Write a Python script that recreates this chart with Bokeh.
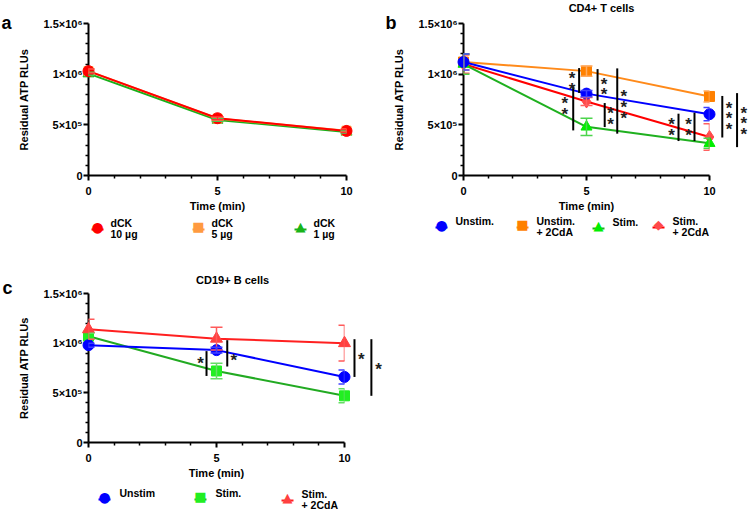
from bokeh.plotting import figure
from bokeh.models import Range1d, FixedTicker, Whisker, TeeHead, ColumnDataSource
from bokeh.layouts import column, row
from bokeh.core.properties import value
from bokeh.embed import file_html
from bokeh.resources import INLINE

FONT = "Liberation Sans"
SYMBOL_FONT = "DejaVu Sans"
Y_MAX = 1500000
X_MAX = 10

# ---------------- data ----------------
time_min = [0, 5, 10]
x_major = [0, 5, 10]
x_minor = [1, 2, 3, 4, 6, 7, 8, 9]
y_major = [0, 500000, 1000000, 1500000]
y_major_labels = ["0", "5×10⁵", "1×10⁶", "1.5×10⁶"]
y_minor = [k * 100000 for k in range(16) if k % 5 != 0]

# panel a
a_labels = ["dCK\n10 µg", "dCK\n5 µg", "dCK\n1 µg"]
a_dck10 = [1030000, 565000, 440000]
a_dck10_err = [20000, 15000, 15000]
a_dck5 = [1030000, 562000, 442000]
a_dck5_err = [20000, 15000, 15000]
a_dck1 = [1005000, 548000, 430000]
a_dck1_err = [15000, 12000, 12000]

# panel b  (CD4+ T cells)
b_title = "CD4+ T cells"
b_labels = ["Unstim.\n ", "Unstim.\n+ 2CdA", "Stim.\n ", "Stim.\n+ 2CdA"]
b_unstim = [1120000, 808000, 605000]
b_unstim_err = [80000, 30000, 65000]
b_unstim_2cda = [1120000, 1030000, 780000]
b_unstim_2cda_err = [80000, 50000, 55000]
b_stim = [1100000, 480000, 318000]
b_stim_err = [100000, 85000, 50000]
b_stim_2cda = [1100000, 730000, 380000]
b_stim_2cda_err = [90000, 40000, 130000]
b_sig_x = [4.70, 4.46, 5.45, 5.74, 6.25, 8.74, 9.39, 10.52, 11.12]
b_sig_top = [1060000, 880000, 1050000, 715000, 1057000, 610000, 620000, 785000, 813000]
b_sig_bottom = [815000, 445000, 740000, 478000, 413000, 340000, 340000, 375000, 280000]
b_star_x = [4.41, 4.12, 5.71, 5.98, 6.52, 8.46, 9.15, 10.79, 11.39]
b_star_y = [930000, 685000, 880000, 590000, 700000, 480000, 480000, 590000, 540000]
b_star_text = ["*\n*", "*\n*", "*\n*", "*\n*", "*\n*\n*", "*\n*", "*\n*", "*\n*\n*", "*\n*\n*"]

# panel c  (CD19+ B cells)
c_title = "CD19+ B cells"
c_labels = ["Unstim\n ", "Stim.\n ", "Stim.\n+ 2CdA"]
c_unstim = [980000, 930000, 660000]
c_unstim_err = [20000, 30000, 70000]
c_stim = [1070000, 720000, 470000]
c_stim_err = [30000, 78000, 70000]
c_stim_2cda = [1140000, 1045000, 1000000]
c_stim_2cda_err = [100000, 115000, 180000]
c_sig_x = [4.61, 5.42, 10.39, 11.05]
c_sig_top = [920000, 1030000, 1040000, 1040000]
c_sig_bottom = [670000, 765000, 660000, 470000]
c_star_x = [4.38, 5.68, 10.66, 11.33]
c_star_y = [830000, 860000, 870000, 765000]
c_star_text = ["*", "*", "*", "*"]

KEY_SYMBOLS = {"circle": ("●", "14px"), "square": ("■", "13px"),
               "triangle": ("▲", "13px"), "diamond": ("◆", "13px")}


def make_fig(width, height, left, top, right, bottom):
    p = figure(width=width, height=height, x_range=Range1d(0, X_MAX), y_range=Range1d(0, Y_MAX),
               output_backend="svg", toolbar_location=None,
               min_border_left=left, min_border_top=top,
               min_border_right=right, min_border_bottom=bottom)
    p.outline_line_color = None
    p.grid.visible = False
    p.xaxis.ticker = FixedTicker(ticks=x_major, minor_ticks=x_minor)
    p.yaxis.ticker = FixedTicker(ticks=y_major, minor_ticks=y_minor)
    p.yaxis.major_label_overrides = dict(zip(y_major, y_major_labels))
    p.xaxis.axis_label = "Time (min)"
    p.yaxis.axis_label = "Residual ATP RLUs"
    for ax in (p.xaxis[0], p.yaxis[0]):
        ax.axis_line_width = 2
        ax.axis_line_color = "black"
        ax.major_tick_line_width = 2
        ax.minor_tick_line_width = 1.5
        ax.major_tick_out = 5
        ax.major_tick_in = 0
        ax.minor_tick_out = 3
        ax.minor_tick_in = 0
        ax.major_label_text_font = FONT
        ax.major_label_text_font_style = "bold"
        ax.major_label_text_font_size = "11px"
        ax.major_label_text_color = "black"
        ax.axis_label_text_font = FONT
        ax.axis_label_text_font_style = "bold"
        ax.axis_label_text_font_size = "11px"
        ax.axis_label_text_color = "black"
    p.xaxis.major_label_standoff = 6
    p.xaxis.axis_label_standoff = 2
    p.yaxis.major_label_standoff = 1
    p.yaxis.axis_label_standoff = 10
    # frame geometry in canvas pixels: left, bottom, width, height
    p.tags = [left, height - bottom, width - left - right, height - top - bottom]
    return p


def add_series(p, ys, errs, marker, size, line_color, marker_color, err_color):
    src = ColumnDataSource(dict(x=time_min, y=ys,
                                upper=[v + e for v, e in zip(ys, errs)],
                                lower=[v - e for v, e in zip(ys, errs)]))
    w = Whisker(source=src, base="x", upper="upper", lower="lower", dimension="height",
                line_color=err_color, line_width=1.5, level="overlay",
                upper_head=TeeHead(size=12, line_color=err_color, line_width=1.5),
                lower_head=TeeHead(size=12, line_color=err_color, line_width=1.5))
    p.add_layout(w)
    p.line("x", "y", source=src, line_color=line_color, line_width=2, level="overlay")
    p.scatter("x", "y", source=src, marker=marker, size=size, fill_color=marker_color,
              line_color=marker_color, level="overlay")
    return (marker, line_color, marker_color)


def add_sig(p, xs, tops, bottoms, sx, sy, stext):
    src = ColumnDataSource(dict(x=xs, top=tops, bottom=bottoms))
    p.segment(x0="x", y0="top", x1="x", y1="bottom", source=src, line_color="black",
              line_width=2, level="overlay")
    ssrc = ColumnDataSource(dict(x=sx, y=sy, t=stext))
    p.text(x="x", y="y", text="t", source=ssrc, text_font=value(FONT), text_font_size="17px",
           text_font_style="bold", text_align="center", text_baseline="middle",
           text_line_height=0.56, text_color="#222222", level="overlay", y_offset=3)


def add_text(p, x, y, txt, size, xoff, yoff, align, baseline):
    p.text(x=[x], y=[y], text=[txt], x_offset=xoff, y_offset=yoff, text_font=value(FONT),
           text_font_style="bold", text_font_size=size, text_align=align,
           text_baseline=baseline, text_color="black", level="overlay")


def add_key(p, specs, labels, key_px, key_py, text_dx):
    """Legend drawn below the axis: positions given in canvas pixels (layout only)."""
    fl, fb, fw, fh = p.tags
    half = 6 / fw * X_MAX
    kx = [(px - fl) / fw * X_MAX for px in key_px]
    ky = [(fb - py) / fh * Y_MAX for py in key_py]
    for (marker, lc, mc), x, y, lab, d in zip(specs, kx, ky, labels, text_dx):
        sym, fs = KEY_SYMBOLS[marker]
        p.segment(x0=[x - half], y0=[y], x1=[x + half], y1=[y], line_color=lc, line_width=2,
                  level="overlay")
        p.text([x], [y], text=[sym], y_offset=-3, text_font=value(SYMBOL_FONT),
               text_font_size=fs, text_align="center", text_baseline="middle",
               text_color=mc, level="overlay")
        p.text([x], [y], text=[lab], x_offset=d, y_offset=-1, text_font=value(FONT),
               text_font_style="bold", text_font_size="10.5px", text_align="left",
               text_baseline="middle", text_line_height=0.9, text_color="black",
               level="overlay")


# ---------------- panel a ----------------
pa = make_fig(375, 262, 88, 23, 29, 87)
sa1 = add_series(pa, a_dck1, a_dck1_err, "triangle", 11, "#1aaf1a", "#18b418", "#4cc44c")
sa5 = add_series(pa, a_dck5, a_dck5_err, "square", 9, "#ff9a40", "#ff9a40", "#ffb070")
sa10 = add_series(pa, a_dck10, a_dck10_err, "circle", 11, "#ff0000", "#ff0000", "#ff3030")
add_text(pa, 0, Y_MAX, "a", "18px", -87, -1, "left", "alphabetic")
add_key(pa, [sa10, sa5, sa1], a_labels, [97, 198, 300], [229, 229, 229], [13, 13, 13])

# ---------------- panel b ----------------
pb = make_fig(374, 262, 88, 23, 40, 87)
sbs2 = add_series(pb, b_stim_2cda, b_stim_2cda_err, "diamond", 13, "#ff0000", "#ff4a4a", "#ff6060")
sbu2 = add_series(pb, b_unstim_2cda, b_unstim_2cda_err, "square", 10, "#ff8a1a", "#ff8000", "#ffaa60")
sbs = add_series(pb, b_stim, b_stim_err, "triangle", 11, "#1fb01f", "#00ee00", "#4cd44c")
sbu = add_series(pb, b_unstim, b_unstim_err, "circle", 11, "#0000ff", "#0000ff", "#4040ff")
add_sig(pb, b_sig_x, b_sig_top, b_sig_bottom, b_star_x, b_star_y, b_star_text)
add_text(pb, 0, Y_MAX, "b", "18px", -78, -1, "left", "alphabetic")
add_text(pb, 5.61, Y_MAX, b_title, "11px", 0, -16, "center", "middle")
add_key(pb, [sbu, sbu2, sbs, sbs2], b_labels, [66, 147, 223, 283], [227, 227, 228, 227],
        [14, 14, 14, 14])

# ---------------- panel c ----------------
pc = make_fig(400, 250, 88, 31, 56, 70)
scs = add_series(pc, c_stim, c_stim_err, "square", 10, "#22aa22", "#22ee22", "#66dd66")
scs2 = add_series(pc, c_stim_2cda, c_stim_2cda_err, "triangle", 12, "#ff2020", "#ff4040", "#ff5a5a")
scu = add_series(pc, c_unstim, c_unstim_err, "circle", 11, "#0000ff", "#0000ff", "#4040ff")
add_sig(pc, c_sig_x, c_sig_top, c_sig_bottom, c_star_x, c_star_y, c_star_text)
add_text(pc, 0, Y_MAX, "c", "18px", -86, -6, "left", "alphabetic")
add_text(pc, 5.63, Y_MAX, c_title, "11px", 0, -14, "center", "middle")
add_key(pc, [scu, scs, scs2], c_labels, [104, 200, 287], [237, 237, 238], [15, 15, 14])

layout = column(row(pa, pb), pc)
open("out.html", "w").write(file_html(layout, INLINE))
